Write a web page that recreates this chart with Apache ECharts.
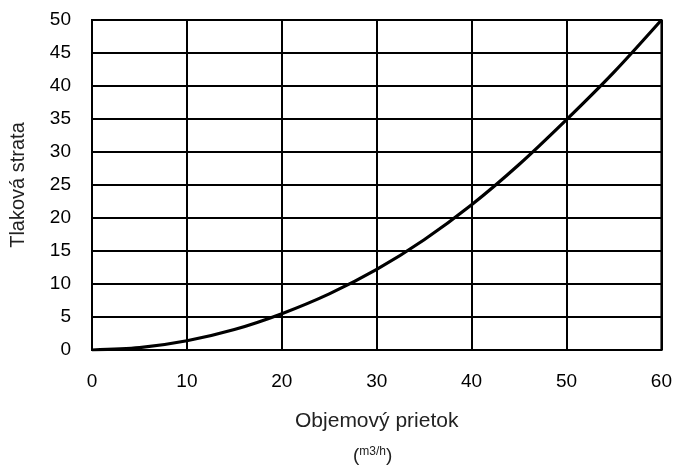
<!DOCTYPE html>
<html>
<head>
<meta charset="utf-8">
<script src="https://cdn.jsdelivr.net/npm/echarts@6/dist/echarts.min.js"></script>
<style>html,body{margin:0;padding:0;background:#fff}#c{width:675px;height:468px}</style>
</head>
<body>
<div id="c"></div>
<script>
// Flow (m3/h) and pressure loss values
var flow = [0, 5, 10, 15, 20, 25, 30, 35, 40, 45, 50, 55, 60];
var loss = [0, 0.35, 1.4, 3.1, 5.5, 8.5, 12.2, 16.7, 22.0, 28.1, 34.9, 42.1, 50];
var xTitle = 'Objemový prietok';
var xUnit = 'm3/h';
var yTitle = 'Tlaková strata';

var pts = flow.map(function (f, i) { return [f, loss[i]]; });
var chart = echarts.init(document.getElementById('c'));
var lbl = { color: '#000', fontSize: 19, fontFamily: '"Liberation Sans", Arial, sans-serif' };
chart.setOption({
  animation: false,
  backgroundColor: '#fff',
  grid: { left: 92, right: 13, top: 20, bottom: 118, show: true, borderColor: '#000', borderWidth: 2 },
  xAxis: {
    type: 'value', min: 0, max: 60, interval: 10,
    name: xTitle, nameLocation: 'middle', nameGap: 61,
    nameTextStyle: { color: '#222', fontSize: 21, fontFamily: '"Liberation Sans", Arial, sans-serif' },
    axisLine: { show: true, lineStyle: { color: '#000', width: 2 } },
    axisTick: { show: false },
    axisLabel: Object.assign({ margin: 22 }, lbl),
    splitLine: { show: true, lineStyle: { color: '#000', width: 2 } }
  },
  yAxis: {
    type: 'value', min: 0, max: 50, interval: 5,
    name: yTitle, nameLocation: 'middle', nameGap: 64, nameRotate: 90,
    nameTextStyle: { color: '#222', fontSize: 20, fontFamily: '"Liberation Sans", Arial, sans-serif' },
    axisLine: { show: true, lineStyle: { color: '#000', width: 2 } },
    axisTick: { show: false },
    axisLabel: Object.assign({ margin: 21 }, lbl),
    splitLine: { show: true, lineStyle: { color: '#000', width: 2 } }
  },
  graphic: [{
    type: 'text', left: 353, top: 446,
    style: {
      text: '({s|' + xUnit + '})',
      rich: { s: { fontSize: 12, fill: '#222', fontFamily: '"Liberation Sans", Arial, sans-serif', verticalAlign: 'top', padding: [0, 0, 8, 0] } },
      fontSize: 19, fill: '#222', fontFamily: '"Liberation Sans", Arial, sans-serif'
    }
  }],
  series: [{
    type: 'line', data: pts, smooth: 0.3, showSymbol: false,
    lineStyle: { color: '#000', width: 3.2 }
  }]
});
</script>
</body>
</html>
